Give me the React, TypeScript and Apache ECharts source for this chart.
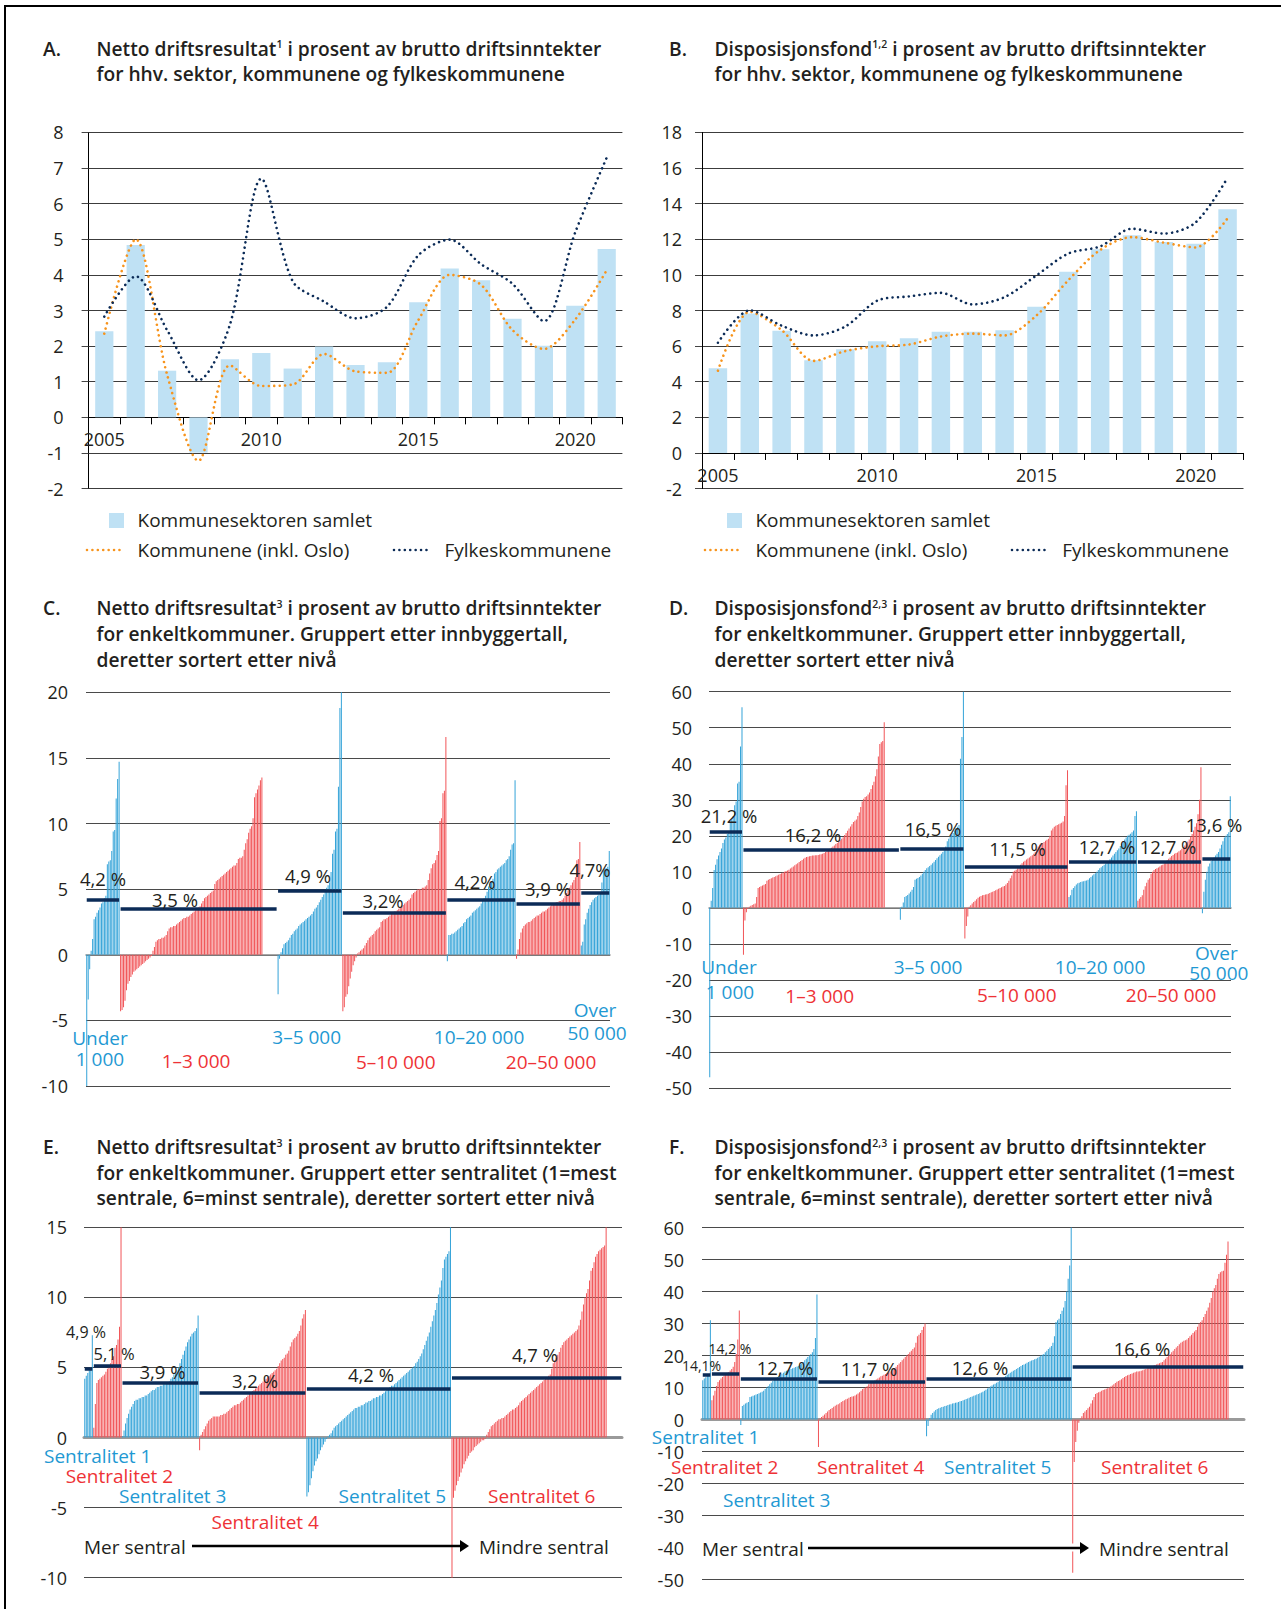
import React, { useEffect, useRef } from 'react';
import * as echarts from 'echarts';

// ---------- Panel A / B data ----------
const YEARS = ['2005','2006','2007','2008','2009','2010','2011','2012','2013','2014','2015','2016','2017','2018','2019','2020','2021'];
const A_SECTOR = [2.42, 4.84, 1.31, -0.99, 1.63, 1.81, 1.37, 1.99, 1.47, 1.55, 3.23, 4.18, 3.85, 2.77, 2.01, 3.13, 4.73];
const A_KOMMUNER = [2.35, 5.0, 1.2, -1.22, 1.46, 0.88, 0.92, 1.78, 1.29, 1.25, 2.73, 4.0, 3.72, 2.45, 1.92, 2.75, 4.13];
const A_FYLKE = [2.83, 3.96, 2.45, 1.04, 2.6, 6.7, 3.82, 3.25, 2.78, 3.1, 4.55, 4.99, 4.3, 3.75, 2.7, 5.2, 7.29];
const B_SECTOR = [4.76, 7.83, 6.87, 5.21, 5.82, 6.27, 6.44, 6.8, 6.8, 6.89, 8.21, 10.18, 11.44, 12.22, 11.85, 11.75, 13.69];
const B_KOMMUNER = [4.62, 7.93, 6.9, 5.17, 5.72, 5.99, 6.09, 6.54, 6.7, 6.6, 7.72, 9.7, 11.4, 12.12, 11.81, 11.54, 13.18];
const B_FYLKE = [6.19, 8.01, 7.15, 6.6, 7.1, 8.55, 8.79, 8.99, 8.34, 8.75, 9.97, 11.2, 11.6, 12.59, 12.32, 12.95, 15.45];
const YEAR_LABEL_STEP = 5;

// ---------- Panel C: netto driftsresultat by population group ----------
const C_UNDER_1000 = [-10.0, -3.4, -1.1, 0.3, 1.2, 2.7, 2.9, 3.2, 3.4, 3.6, 3.9, 4.0, 4.3, 4.5, 6.9, 7.1, 7.2, 7.9, 9.4, 9.5, 11.9, 13.4, 14.7];
const C_1_3000 = [-4.3, -4.2, -4.0, -3.5, -2.7, -2.2, -2.0, -1.7, -1.5, -1.3, -1.2, -1.1, -1.0, -0.9, -0.8, -0.7, -0.6, -0.5, -0.4, -0.3, -0.2, -0.1,
  0.3, 0.6, 1.0, 1.1, 1.2, 1.2, 1.3, 1.3, 1.4, 1.5, 1.8, 2.0, 2.1, 2.1, 2.2, 2.2, 2.3, 2.4, 2.5, 2.6, 2.7, 2.8, 2.8, 2.9, 2.9, 3.0, 3.1, 3.2, 3.3, 3.4,
  3.5, 3.6, 3.7, 3.9, 4.1, 4.3, 4.4, 4.5, 4.6, 4.7, 4.8, 4.9, 5.4, 5.6, 5.7, 5.8, 5.9, 6.0, 6.1, 6.2, 6.3, 6.4, 6.5, 6.6, 6.7, 6.8, 6.8, 7.0, 7.3, 7.4,
  7.4, 7.5, 8.0, 8.5, 8.8, 9.3, 9.6, 9.8, 10.4, 12.0, 12.3, 12.6, 12.9, 13.3, 13.5];
const C_3_5000 = [-3.0, -0.3, 0.2, 0.5, 0.8, 0.9, 1.0, 1.1, 1.3, 1.5, 1.6, 1.8, 1.9, 2.0, 2.2, 2.3, 2.4, 2.5, 2.6, 2.7, 2.8, 2.9, 3.0, 3.1, 3.3, 3.5,
  3.6, 3.8, 4.0, 4.2, 4.4, 4.6, 4.9, 5.1, 5.3, 5.5, 6.3, 7.7, 8.0, 9.4, 9.6, 12.8, 18.8, 20.0];
const C_5_10000 = [-4.3, -4.0, -3.2, -3.0, -2.4, -1.8, -1.3, -0.8, -0.5, -0.2,
  0.1, 0.2, 0.3, 0.4, 0.5, 0.7, 0.9, 1.1, 1.3, 1.4, 1.5, 1.6, 1.8, 1.9, 2.0, 2.1, 2.5, 2.6, 2.7, 2.7, 2.8, 2.9, 3.0, 3.1, 3.2, 3.3, 3.3, 3.4, 3.5, 3.6,
  3.7, 3.8, 3.9, 4.0, 4.1, 4.2, 4.3, 4.6, 4.7, 4.8, 4.9, 5.0, 5.0, 5.0, 5.1, 5.1, 5.2, 5.3, 5.7, 6.2, 6.6, 6.9, 7.0, 7.2, 7.6, 7.9, 10.2, 10.4, 12.3, 12.5, 16.6];
const C_10_20000 = [-0.5, 1.5, 1.5, 1.6, 1.6, 1.7, 1.8, 1.9, 2.0, 2.1, 2.2, 2.4, 2.5, 2.7, 2.8, 2.9, 3.0, 3.2, 3.3, 3.4, 3.5, 3.6, 3.7, 3.9, 4.1, 4.3,
  4.5, 4.8, 5.2, 5.4, 5.6, 5.8, 6.2, 6.3, 6.5, 6.6, 6.7, 6.8, 6.9, 7.0, 7.2, 7.3, 7.5, 8.0, 8.4, 8.5, 13.3];
const C_20_50000 = [-0.3, 0.4, 1.2, 1.7, 2.0, 2.2, 2.3, 2.4, 2.5, 2.5, 2.6, 2.7, 2.8, 2.9, 3.0, 3.0, 3.1, 3.2, 3.3, 3.3, 3.4, 3.5, 3.6, 3.7, 3.8, 3.8,
  3.9, 4.0, 4.0, 4.1, 4.1, 4.2, 4.3, 4.5, 4.7, 4.9, 5.1, 5.3, 5.5, 5.7, 5.9, 7.2, 7.3, 8.6];
const C_OVER_50000 = [0.7, 1.0, 2.3, 2.7, 3.2, 3.5, 3.8, 4.0, 4.2, 4.3, 4.4, 4.5, 4.6, 4.8, 5.5, 6.5, 6.6, 6.6, 6.7, 7.9];
const C_AVG = [4.2, 3.5, 4.9, 3.2, 4.2, 3.9, 4.7];
const C_AVG_LABELS = ['4,2 %', '3,5 %', '4,9 %', '3,2%', '4,2%', '3,9 %', '4,7%'];

// ---------- Panel D: disposisjonsfond by population group ----------
const D_UNDER_1000 = [-47.0, 2.0, 5.5, 10.5, 12.0, 13.5, 14.5, 15.5, 16.5, 18.0, 19.0, 19.5, 20.5, 21.0, 24.0, 24.5, 25.5, 28.5, 29.5, 34.5, 35.0, 44.8, 55.7];
const D_1_3000 = [-13.0, -3.5, -1.2, -0.3,
  0.3, 0.6, 0.8, 1.0, 1.2, 3.0, 5.5, 5.8, 6.0, 6.2, 6.4, 6.6, 7.5, 7.8, 8.0, 8.2, 8.4, 8.6, 8.8, 9.0, 9.2, 9.4, 9.6, 9.8, 10.0, 10.2, 10.4, 10.6, 10.9,
  11.2, 11.5, 11.8, 12.1, 12.4, 12.7, 13.0, 13.3, 13.6, 13.9, 14.1, 14.2, 14.3, 14.4, 14.5, 14.5, 14.6, 14.6, 14.7, 14.8, 14.9, 15.0, 15.2, 15.5, 15.8,
  16.1, 16.4, 16.7, 17.0, 17.3, 17.7, 18.0, 18.4, 18.8, 19.2, 19.6, 20.2, 20.8, 21.4, 22.0, 22.6, 23.2, 23.8, 24.2, 24.5, 25.5, 26.5, 28.0, 29.5, 30.3,
  30.8, 31.0, 31.5, 32.0, 33.0, 34.0, 35.0, 36.5, 38.5, 42.0, 45.5, 46.0, 46.3, 51.5];
const D_3_5000 = [-3.3, 0.3, 1.5, 3.0, 3.3, 3.6, 4.0, 4.5, 5.0, 5.8, 7.8, 8.1, 8.3, 8.6, 9.0, 9.5, 10.0, 10.5, 11.0, 11.3, 11.6, 12.0, 12.4, 12.8, 13.3,
  13.8, 14.2, 14.6, 15.0, 15.5, 16.0, 17.0, 18.5, 19.2, 19.8, 20.3, 20.8, 21.5, 22.0, 22.5, 23.0, 41.4, 47.4, 60.0];
const D_5_10000 = [-8.5, -5.0, -2.4, 0.3, 0.7, 1.2, 1.6, 2.0, 2.4, 2.8, 3.1, 3.3, 3.5, 3.6, 3.7, 3.8, 3.9, 4.1, 4.3, 4.5, 4.7, 4.9, 5.1, 5.3, 5.5, 5.7,
  5.9, 6.1, 6.5, 6.9, 7.5, 8.2, 9.0, 10.0, 10.3, 10.6, 11.0, 11.5, 12.0, 12.4, 12.8, 13.1, 13.4, 13.7, 14.0, 14.3, 14.6, 15.0, 15.5, 16.3, 17.0, 17.5,
  17.8, 18.0, 18.3, 18.6, 18.9, 19.2, 20.0, 21.5, 22.0, 22.5, 22.8, 23.0, 23.2, 23.4, 23.6, 24.0, 25.5, 34.0, 38.2];
const D_10_20000 = [3.0, 3.5, 5.0, 5.5, 6.0, 6.5, 6.8, 7.0, 7.2, 7.3, 7.4, 7.5, 7.6, 7.8, 8.2, 8.6, 9.0, 9.3, 9.6, 10.0, 10.5, 11.0, 11.3, 11.6, 12.0,
  12.3, 12.6, 13.0, 13.5, 14.0, 14.5, 15.0, 15.5, 16.0, 16.5, 17.2, 17.8, 18.5, 19.0, 19.5, 20.0, 20.3, 20.6, 21.0, 21.5, 25.5, 26.8];
const D_20_50000 = [2.0, 2.5, 3.0, 3.5, 5.0, 6.0, 7.0, 7.8, 8.2, 9.5, 10.0, 10.5, 10.8, 11.0, 11.2, 11.5, 11.8, 12.0, 12.4, 12.8, 13.2, 13.6, 14.0,
  14.4, 14.7, 15.0, 15.2, 15.4, 15.7, 16.0, 16.4, 16.8, 17.3, 17.8, 18.4, 19.0, 19.8, 20.5, 21.5, 22.5, 23.5, 26.0, 30.0, 39.0];
const D_OVER_50000 = [-1.5, 4.5, 7.8, 10.0, 11.5, 12.3, 13.0, 13.5, 14.0, 14.5, 15.0, 15.5, 16.5, 17.5, 18.5, 19.5, 20.0, 20.5, 21.0, 31.0];
const D_AVG = [21.2, 16.2, 16.5, 11.5, 12.7, 12.7, 13.6];
const D_AVG_LABELS = ['21,2 %', '16,2 %', '16,5 %', '11,5 %', '12,7 %', '12,7 %', '13,6 %'];

// ---------- Panel E: netto driftsresultat by sentralitet ----------
const E_S1 = [4.2, 4.4, 4.6, 4.8, 5.0, 7.3];
const E_S2 = [0.7, 2.4, 3.9, 4.1, 4.2, 4.3, 4.4, 4.5, 4.7, 4.9, 5.0, 5.3, 5.6, 5.8, 6.4, 6.6, 7.0, 7.9, 15.0];
const E_S3 = [0.1, 0.5, 1.0, 1.4, 1.7, 2.0, 2.2, 2.4, 2.6, 2.7, 2.7, 2.8, 2.8, 2.9, 2.9, 3.0, 3.0, 3.1, 3.2, 3.3, 3.4, 3.4, 3.5, 3.6, 3.6, 3.7,
  3.7, 3.8, 3.8, 3.9, 3.9, 4.0, 4.2, 4.3, 4.5, 4.6, 4.8, 5.0, 5.3, 5.6, 5.9, 6.2, 6.5, 6.8, 7.0, 7.2, 7.4, 7.5, 7.6, 7.8, 8.7];
const E_S4 = [-0.9, 0.2, 0.4, 0.6, 0.8, 1.0, 1.2, 1.3, 1.4, 1.5, 1.5, 1.5, 1.5, 1.5, 1.6, 1.6, 1.7, 1.7, 1.8, 1.9, 2.0, 2.1, 2.2, 2.3, 2.3, 2.4,
  2.4, 2.5, 2.6, 2.7, 2.8, 2.9, 3.0, 3.1, 3.2, 3.3, 3.4, 3.5, 3.6, 3.7, 3.8, 3.9, 4.0, 4.1, 4.2, 4.3, 4.4, 4.5, 4.6, 4.7, 4.8, 4.9, 5.1, 5.3, 5.5,
  5.6, 5.7, 5.9, 6.0, 6.2, 6.5, 6.8, 7.0, 7.1, 7.2, 7.4, 7.6, 8.0, 8.5, 8.8, 9.1];
const E_S5 = [-4.2, -3.9, -3.4, -2.9, -2.4, -2.0, -1.7, -1.5, -1.2, -0.9, -0.7, -0.5, -0.3, -0.1,
  0.1, 0.2, 0.3, 0.5, 0.7, 0.8, 0.9, 1.0, 1.1, 1.2, 1.3, 1.4, 1.5, 1.6, 1.7, 1.8, 1.9, 2.0, 2.1, 2.1, 2.2, 2.2, 2.3, 2.3, 2.4, 2.5, 2.5, 2.6, 2.6,
  2.7, 2.8, 2.8, 2.9, 2.9, 3.0, 3.0, 3.1, 3.2, 3.3, 3.4, 3.5, 3.6, 3.7, 3.7, 3.8, 3.9, 4.0, 4.1, 4.2, 4.3, 4.4, 4.5, 4.6, 4.7, 4.8, 4.9, 5.0, 5.1,
  5.3, 5.4, 5.6, 5.8, 6.0, 6.3, 6.6, 6.9, 7.2, 7.5, 7.9, 8.3, 8.7, 9.1, 9.6, 10.2, 10.7, 11.2, 12.1, 12.7, 12.9, 13.1, 13.3, 15.0];
const E_S6 = [-10.0, -4.3, -3.8, -3.4, -3.1, -2.8, -2.5, -2.2, -1.9, -1.7, -1.5, -1.3, -1.1, -1.0, -0.9, -0.7, -0.6, -0.5, -0.4, -0.3, -0.2, -0.2, -0.1,
  0.2, 0.4, 0.6, 0.8, 0.9, 1.0, 1.1, 1.2, 1.3, 1.3, 1.4, 1.4, 1.5, 1.6, 1.7, 1.8, 1.9, 2.0, 2.0, 2.1, 2.2, 2.3, 2.5, 2.6, 2.7, 2.8, 2.9, 3.0, 3.1,
  3.2, 3.3, 3.4, 3.5, 3.6, 3.7, 3.8, 3.9, 4.0, 4.1, 4.2, 4.3, 4.4, 4.5, 4.9, 5.3, 5.5, 5.7, 5.9, 6.1, 6.4, 6.6, 6.8, 6.9, 7.0, 7.1, 7.2, 7.3, 7.4,
  7.5, 7.6, 7.7, 8.0, 8.4, 9.0, 9.5, 10.0, 10.3, 10.6, 11.2, 11.9, 12.1, 12.5, 12.9, 13.1, 13.3, 13.4, 13.5, 13.6, 13.7, 15.0];
const E_AVG_LINE = [4.9, 5.1, 3.9, 3.2, 3.5, 4.25];
const E_AVG_LABELS = ['4,9 %', '5,1 %', '3,9 %', '3,2 %', '4,2 %', '4,7 %'];

// ---------- Panel F: disposisjonsfond by sentralitet ----------
const F_S1 = [12.3, 12.8, 13.2, 13.6, 14.0, 31.0];
const F_S2 = [6.0, 7.5, 9.0, 10.5, 11.7, 12.3, 12.8, 13.3, 13.8, 14.3, 14.6, 14.8, 15.3, 15.8, 16.5, 18.0, 20.5, 25.0, 34.1];
const F_S3 = [-1.7, 4.2, 4.6, 5.0, 5.2, 5.5, 7.0, 7.2, 7.4, 7.6, 7.8, 8.0, 8.2, 8.4, 8.7, 9.0, 9.5, 10.0, 10.5, 11.0, 11.5, 12.0, 12.5, 13.0, 13.3,
  13.6, 14.0, 14.3, 14.6, 15.0, 15.2, 15.4, 15.6, 15.8, 16.0, 16.2, 16.4, 16.6, 16.8, 17.0, 17.5, 18.0, 18.5, 19.0, 19.5, 20.0, 20.5, 21.0, 22.0, 25.5, 39.1];
const F_S4 = [-8.6, 0.3, 0.8, 1.2, 1.6, 2.0, 2.5, 3.0, 3.3, 3.6, 4.0, 4.3, 4.6, 4.8, 5.1, 5.5, 5.8, 6.0, 6.3, 6.5, 6.8, 7.0, 7.2, 7.3, 7.5, 7.8,
  8.1, 8.5, 9.0, 9.5, 9.8, 10.0, 10.4, 11.0, 11.3, 11.7, 12.0, 12.2, 12.5, 12.8, 13.1, 13.5, 13.7, 14.0, 14.2, 14.5, 14.7, 15.0, 15.3, 15.6, 16.0,
  16.5, 17.0, 17.5, 18.0, 18.5, 19.0, 19.5, 20.0, 20.5, 21.0, 21.5, 22.0, 22.5, 24.0, 26.0, 26.5, 27.0, 28.0, 29.0, 30.0];
const F_S5 = [-5.2, -2.0, 0.5, 1.5, 2.0, 2.5, 3.0, 3.3, 3.5, 3.7, 3.9, 4.0, 4.2, 4.3, 4.5, 4.7, 4.8, 5.0, 5.1, 5.2, 5.3, 5.5, 5.7, 5.8, 6.0, 6.2,
  6.4, 6.6, 6.8, 7.0, 7.2, 7.4, 7.6, 7.8, 8.0, 8.2, 8.4, 8.7, 9.0, 9.3, 9.7, 10.0, 10.3, 10.6, 10.9, 11.2, 11.5, 11.8, 12.0, 12.4, 12.8, 13.2, 13.6,
  14.0, 14.3, 14.6, 14.9, 15.2, 15.5, 15.8, 16.1, 16.4, 16.7, 17.0, 17.2, 17.4, 17.7, 18.0, 18.2, 18.4, 18.6, 18.8, 19.0, 19.3, 19.6, 20.0, 20.2, 20.5,
  21.0, 21.5, 22.0, 22.5, 23.0, 24.0, 26.0, 30.5, 31.0, 31.5, 33.0, 34.0, 35.0, 37.0, 40.0, 44.0, 48.1, 60.0];
const F_S6 = [-47.9, -13.3, -7.0, -3.5, -1.0,
  0.3, 1.0, 2.0, 2.5, 3.0, 3.5, 4.0, 5.0, 6.0, 7.0, 8.0, 8.3, 8.5, 8.7, 9.0, 9.2, 9.4, 9.6, 9.8, 10.0, 10.3, 10.6, 11.0, 11.4, 11.8, 12.0, 12.3, 12.6,
  13.0, 13.3, 13.6, 13.8, 14.0, 14.2, 14.4, 14.6, 14.8, 15.0, 15.0, 15.1, 15.2, 15.4, 15.6, 15.8, 16.0, 16.2, 16.4, 16.6, 16.8, 17.0, 17.2, 17.4, 17.6,
  17.8, 18.0, 18.5, 19.0, 19.5, 20.0, 20.5, 21.0, 21.5, 22.0, 22.5, 23.0, 23.5, 24.0, 24.3, 24.6, 24.8, 25.0, 25.5, 26.0, 26.5, 27.0, 27.5, 28.0, 29.0,
  30.0, 30.5, 31.0, 32.0, 33.0, 34.0, 35.0, 36.5, 38.0, 40.0, 41.0, 42.0, 44.0, 45.5, 46.0, 46.3, 46.5, 49.0, 51.5, 55.6];
const F_AVG = [14.1, 14.2, 12.7, 11.7, 12.6, 16.6];
const F_AVG_LABELS = ['14,1%', '14,2 %', '12,7 %', '11,7 %', '12,6 %', '16,6 %'];

// municipalities with no value (drawn as empty slots)
const MISSING_1_3000 = 10;
const MISSING_S6 = 10;

// ---------- styling ----------
const FONT = '"Open Sans", "Noto Sans", sans-serif';
const TXT = '#231f20';
const BAR_BLUE = '#34a3d8';
const BAR_RED = '#f15558';
const BLUE_TXT = '#1f99d3';
const RED_TXT = '#ee3236';
const NAVY = '#0b2b57';
const ORANGE = '#f7941d';
const LIGHTBLUE = '#bfe1f4';
const TITLE_SIZE = 19.2;

type Group = { vals: number[]; color: string; line: number; missing?: number };

function buildPanel(groups: Group[]) {
  const data: any[] = [];
  const lines: any[] = [];
  for (const g of groups) {
    const start = data.length;
    for (const v of g.vals) data.push({ value: v, itemStyle: { color: g.color } });
    for (let i = 0; i < (g.missing || 0); i++) data.push('-');
    lines.push([{ coord: [start, g.line] }, { coord: [data.length - 1, g.line] }]);
  }
  return { data, lines, cats: data.map((_: any, i: number) => String(i + 1)) };
}

function t(x: number, y: number, text: string, o: any = {}) {
  return {
    type: 'text', x, y, silent: true, z: 10,
    style: {
      text, fontFamily: FONT, fontSize: o.size || 18, fontWeight: o.weight || 'normal',
      fill: o.color || TXT, align: o.align || 'left', verticalAlign: 'middle',
      rich: o.rich,
    },
  };
}

const SUP = { sup: { fontSize: 10.5, fontWeight: 600, fontFamily: FONT, fill: TXT, verticalAlign: 'top' } };

function title(xL: number, xT: number, y: number, letter: string, lines: string[]) {
  const els: any[] = [t(xL, y, letter, { size: TITLE_SIZE, weight: 600 })];
  lines.forEach((l, i) => els.push(t(xT, y + i * 25.7, l, { size: TITLE_SIZE, weight: 600, rich: SUP })));
  return els;
}

function dotted(x1: number, x2: number, y: number, color: string) {
  return {
    type: 'polyline', silent: true,
    shape: { points: [[x1, y], [x2, y]] },
    style: { stroke: color, lineWidth: 2.6, lineDash: [0.01, 5.4], lineCap: 'round', fill: 'none' },
  };
}

function arrow(x1: number, x2: number, y: number) {
  return [
    { type: 'line', silent: true, z: 9, shape: { x1, y1: y, x2: x2 - 6, y2: y }, style: { stroke: '#000', lineWidth: 2.5 } },
    { type: 'polygon', silent: true, z: 9, shape: { points: [[x2 - 9, y - 6], [x2, y], [x2 - 9, y + 6]] }, style: { fill: '#000' } },
  ];
}

function buildPanels() {
  const C = buildPanel([
    { vals: C_UNDER_1000, color: BAR_BLUE, line: C_AVG[0] },
    { vals: C_1_3000, color: BAR_RED, line: C_AVG[1], missing: MISSING_1_3000 },
    { vals: C_3_5000, color: BAR_BLUE, line: C_AVG[2] },
    { vals: C_5_10000, color: BAR_RED, line: C_AVG[3] },
    { vals: C_10_20000, color: BAR_BLUE, line: C_AVG[4] },
    { vals: C_20_50000, color: BAR_RED, line: C_AVG[5] },
    { vals: C_OVER_50000, color: BAR_BLUE, line: C_AVG[6] },
  ]);
  const D = buildPanel([
    { vals: D_UNDER_1000, color: BAR_BLUE, line: D_AVG[0] },
    { vals: D_1_3000, color: BAR_RED, line: D_AVG[1], missing: MISSING_1_3000 },
    { vals: D_3_5000, color: BAR_BLUE, line: D_AVG[2] },
    { vals: D_5_10000, color: BAR_RED, line: D_AVG[3] },
    { vals: D_10_20000, color: BAR_BLUE, line: D_AVG[4] },
    { vals: D_20_50000, color: BAR_RED, line: D_AVG[5] },
    { vals: D_OVER_50000, color: BAR_BLUE, line: D_AVG[6] },
  ]);
  const E = buildPanel([
    { vals: E_S1, color: BAR_BLUE, line: E_AVG_LINE[0] },
    { vals: E_S2, color: BAR_RED, line: E_AVG_LINE[1] },
    { vals: E_S3, color: BAR_BLUE, line: E_AVG_LINE[2] },
    { vals: E_S4, color: BAR_RED, line: E_AVG_LINE[3] },
    { vals: E_S5, color: BAR_BLUE, line: E_AVG_LINE[4] },
    { vals: E_S6, color: BAR_RED, line: E_AVG_LINE[5], missing: MISSING_S6 },
  ]);
  const F = buildPanel([
    { vals: F_S1, color: BAR_BLUE, line: F_AVG[0] },
    { vals: F_S2, color: BAR_RED, line: F_AVG[1] },
    { vals: F_S3, color: BAR_BLUE, line: F_AVG[2] },
    { vals: F_S4, color: BAR_RED, line: F_AVG[3] },
    { vals: F_S5, color: BAR_BLUE, line: F_AVG[4] },
    { vals: F_S6, color: BAR_RED, line: F_AVG[5], missing: MISSING_S6 },
  ]);
  return { C, D, E, F };
}

function buildOption() {
  const { C, D, E, F } = buildPanels();

  const grids = [
    { left: 88.6, top: 132.4, width: 533.8, height: 356.2 },
    { left: 702, top: 132.4, width: 541.5, height: 356.2 },
    { left: 86, top: 692.3, width: 524, height: 393.7 },
    { left: 709, top: 691.7, width: 522, height: 396.3 },
    { left: 84, top: 1227.3, width: 538, height: 350.4 },
    { left: 702, top: 1227.5, width: 542, height: 352 },
  ].map((g) => ({ ...g, containLabel: false, outerBoundsMode: 'none' }));

  const yearAxis = (gi: number) => ({
    type: 'category', gridIndex: gi, data: YEARS, boundaryGap: true,
    axisLine: { onZero: true, lineStyle: { color: '#000', width: 1 } },
    axisTick: { show: true, interval: 0, length: 7, lineStyle: { color: '#000' } },
    axisLabel: { show: false },
    splitLine: { show: false },
  });
  const muniAxis = (gi: number, cats: string[], zeroW: number, zeroC: string) => ({
    type: 'category', gridIndex: gi, data: cats, boundaryGap: true,
    axisLine: { onZero: true, lineStyle: { color: zeroC, width: zeroW } },
    axisTick: { show: false }, axisLabel: { show: false }, splitLine: { show: false },
  });
  const valAxisAB = (gi: number, min: number, max: number, interval: number, margin: number) => ({
    type: 'value', gridIndex: gi, min, max, interval,
    axisLine: { show: true, lineStyle: { color: '#000', width: 1 } },
    axisTick: { show: true, length: 7, lineStyle: { color: '#444' } },
    splitLine: { show: true, lineStyle: { color: '#3c3c3c', width: 1 } },
    axisLabel: { margin, fontSize: 18, color: TXT, fontFamily: FONT },
  });
  const valAxis = (gi: number, min: number, max: number, interval: number, margin: number) => ({
    type: 'value', gridIndex: gi, min, max, interval,
    axisLine: { show: false }, axisTick: { show: false },
    splitLine: { show: true, lineStyle: { color: '#4a4a4a', width: 1 } },
    axisLabel: { margin, fontSize: 18, color: TXT, fontFamily: FONT },
  });

  const dotLine = (name: string, gi: number, data: number[], color: string) => ({
    type: 'line', name, xAxisIndex: gi, yAxisIndex: gi, data, smooth: 0.3, symbol: 'none', z: 3,
    lineStyle: { color, width: 2.6, type: [0.01, 5.4], cap: 'round' },
  });
  const muniBars = (gi: number, P: any) => ({
    type: 'bar', xAxisIndex: gi, yAxisIndex: gi, data: P.data, barWidth: '62%',
    markLine: {
      silent: true, symbol: ['none', 'none'], label: { show: false },
      lineStyle: { color: NAVY, width: 3.5, type: 'solid' }, data: P.lines,
    },
  });

  return {
    animation: false,
    backgroundColor: '#fff',
    textStyle: { fontFamily: FONT },
    grid: grids,
    xAxis: [
      yearAxis(0),
      yearAxis(1),
      muniAxis(2, C.cats, 1.5, '#8a8a8a'),
      muniAxis(3, D.cats, 1.5, '#8a8a8a'),
      muniAxis(4, E.cats, 3, '#9a9a9a'),
      muniAxis(5, F.cats, 3, '#9a9a9a'),
    ],
    yAxis: [
      valAxisAB(0, -2, 8, 1, 25),
      valAxisAB(1, -2, 18, 2, 20),
      valAxis(2, -10, 20, 5, 18),
      valAxis(3, -50, 60, 10, 17),
      valAxis(4, -10, 15, 5, 17),
      valAxis(5, -50, 60, 10, 18),
    ],
    series: [
      { type: 'bar', name: 'Kommunesektoren samlet', xAxisIndex: 0, yAxisIndex: 0, data: A_SECTOR, barCategoryGap: '42%', itemStyle: { color: LIGHTBLUE } },
      dotLine('Kommunene (inkl. Oslo)', 0, A_KOMMUNER, ORANGE),
      dotLine('Fylkeskommunene', 0, A_FYLKE, NAVY),
      { type: 'bar', name: 'Kommunesektoren samlet', xAxisIndex: 1, yAxisIndex: 1, data: B_SECTOR, barCategoryGap: '42%', itemStyle: { color: LIGHTBLUE } },
      dotLine('Kommunene (inkl. Oslo)', 1, B_KOMMUNER, ORANGE),
      dotLine('Fylkeskommunene', 1, B_FYLKE, NAVY),
      muniBars(2, C),
      muniBars(3, D),
      muniBars(4, E),
      muniBars(5, F),
    ],
  };
}

function buildGraphic(chart: any) {
  const graphic: any[] = [
    { type: 'rect', silent: true, shape: { x: 5, y: 6, width: 1300, height: 1640 }, style: { fill: 'none', stroke: '#000', lineWidth: 2 } },
    ...title(43, 96.5, 48.2, 'A.', ['Netto driftsresultat{sup|1} i prosent av brutto driftsinntekter', 'for hhv. sektor, kommunene og fylkeskommunene']),
    ...title(669, 714.5, 48.2, 'B.', ['Disposisjonsfond{sup|1,2} i prosent av brutto driftsinntekter', 'for hhv. sektor, kommunene og fylkeskommunene']),
    ...title(43, 96.5, 607.6, 'C.', ['Netto driftsresultat{sup|3} i prosent av brutto driftsinntekter', 'for enkeltkommuner. Gruppert etter innbyggertall,', 'deretter sortert etter nivå']),
    ...title(669, 714.5, 607.6, 'D.', ['Disposisjonsfond{sup|2,3} i prosent av brutto driftsinntekter', 'for enkeltkommuner. Gruppert etter innbyggertall,', 'deretter sortert etter nivå']),
    ...title(43, 96.5, 1146.5, 'E.', ['Netto driftsresultat{sup|3} i prosent av brutto driftsinntekter', 'for enkeltkommuner. Gruppert etter sentralitet (1=mest', 'sentrale, 6=minst sentrale), deretter sortert etter nivå']),
    ...title(669, 714.5, 1146.5, 'F.', ['Disposisjonsfond{sup|2,3} i prosent av brutto driftsinntekter', 'for enkeltkommuner. Gruppert etter sentralitet (1=mest', 'sentrale, 6=minst sentrale), deretter sortert etter nivå']),

    // legends A
    { type: 'rect', silent: true, shape: { x: 109, y: 513, width: 15, height: 15 }, style: { fill: LIGHTBLUE } },
    t(137.5, 520.4, 'Kommunesektoren samlet', { size: 19 }),
    dotted(87, 124, 550, ORANGE), t(137.5, 550, 'Kommunene (inkl. Oslo)', { size: 19 }),
    dotted(394, 431, 550, NAVY), t(444.4, 550, 'Fylkeskommunene', { size: 19 }),
    // legends B
    { type: 'rect', silent: true, shape: { x: 727, y: 513, width: 15, height: 15 }, style: { fill: LIGHTBLUE } },
    t(755.4, 520.4, 'Kommunesektoren samlet', { size: 19 }),
    dotted(705, 742, 550, ORANGE), t(755.4, 550, 'Kommunene (inkl. Oslo)', { size: 19 }),
    dotted(1012, 1049, 550, NAVY), t(1062.3, 550, 'Fylkeskommunene', { size: 19 }),

    // C group labels
    t(100, 1037.5, 'Under', { size: 19, color: BLUE_TXT, align: 'center' }),
    t(100, 1059, '1 000', { size: 19, color: BLUE_TXT, align: 'center' }),
    t(196, 1061, '1–3 000', { size: 19, color: RED_TXT, align: 'center' }),
    t(306.7, 1037.3, '3–5 000', { size: 19, color: BLUE_TXT, align: 'center' }),
    t(395.7, 1061.7, '5–10 000', { size: 19, color: RED_TXT, align: 'center' }),
    t(479, 1037.3, '10–20 000', { size: 19, color: BLUE_TXT, align: 'center' }),
    t(551, 1061.7, '20–50 000', { size: 19, color: RED_TXT, align: 'center' }),
    t(595, 1010, 'Over', { size: 19, color: BLUE_TXT, align: 'center' }),
    t(597, 1033, '50 000', { size: 19, color: BLUE_TXT, align: 'center' }),
    // D group labels
    t(729, 967.3, 'Under', { size: 19, color: BLUE_TXT, align: 'center' }),
    t(730, 991.7, '1 000', { size: 19, color: BLUE_TXT, align: 'center' }),
    t(819.7, 996, '1–3 000', { size: 19, color: RED_TXT, align: 'center' }),
    t(928, 967.3, '3–5 000', { size: 19, color: BLUE_TXT, align: 'center' }),
    t(1016.7, 995, '5–10 000', { size: 19, color: RED_TXT, align: 'center' }),
    t(1100, 967.3, '10–20 000', { size: 19, color: BLUE_TXT, align: 'center' }),
    t(1171, 995, '20–50 000', { size: 19, color: RED_TXT, align: 'center' }),
    t(1216.3, 953, 'Over', { size: 19, color: BLUE_TXT, align: 'center' }),
    t(1218.8, 973, '50 000', { size: 19, color: BLUE_TXT, align: 'center' }),
    // E group labels
    t(44, 1455.5, 'Sentralitet 1', { size: 19, color: BLUE_TXT }),
    t(65.7, 1476, 'Sentralitet 2', { size: 19, color: RED_TXT }),
    t(119, 1495.5, 'Sentralitet 3', { size: 19, color: BLUE_TXT }),
    t(211.5, 1522, 'Sentralitet 4', { size: 19, color: RED_TXT }),
    t(338.6, 1495.5, 'Sentralitet 5', { size: 19, color: BLUE_TXT }),
    t(488, 1495.5, 'Sentralitet 6', { size: 19, color: RED_TXT }),
    t(84, 1546.5, 'Mer sentral', { size: 19 }),
    t(479, 1546.5, 'Mindre sentral', { size: 19 }),
    ...arrow(192, 469, 1546),
    // F group labels
    t(651.8, 1437, 'Sentralitet 1', { size: 19, color: BLUE_TXT }),
    t(671, 1467, 'Sentralitet 2', { size: 19, color: RED_TXT }),
    t(723, 1500, 'Sentralitet 3', { size: 19, color: BLUE_TXT }),
    t(817, 1467, 'Sentralitet 4', { size: 19, color: RED_TXT }),
    t(944, 1467, 'Sentralitet 5', { size: 19, color: BLUE_TXT }),
    t(1101, 1467, 'Sentralitet 6', { size: 19, color: RED_TXT }),
    // the -40 gridline is hidden behind the arrow row in F
    { type: 'rect', silent: true, z: 8, shape: { x: 702, y: 1543.5, width: 543, height: 8 }, style: { fill: '#fff' } },
    t(702, 1549, 'Mer sentral', { size: 19 }),
    t(1099, 1549, 'Mindre sentral', { size: 19 }),
    ...arrow(808, 1089, 1548),
  ];

  // year labels placed under the zero line of panels A and B
  [0, 1].forEach((gi) => {
    YEARS.forEach((y, i) => {
      if (i % YEAR_LABEL_STEP !== 0) return;
      const p = chart.convertToPixel({ xAxisIndex: gi, yAxisIndex: gi }, [i, 0]);
      if (p) graphic.push(t(p[0], p[1] + 22, y, { size: 18, align: 'center' }));
    });
  });

  // average labels
  const cPos = [[103, 878], [175, 899], [308, 875], [383, 900], [475, 881], [548, 888], [590, 869]];
  C_AVG_LABELS.forEach((s, i) => graphic.push(t(cPos[i][0], cPos[i][1], s, { size: 18.5, align: 'center' })));
  const dPos = [[729, 815], [813, 834], [933, 828], [1017.5, 848], [1107, 846], [1168, 846], [1214, 824]];
  D_AVG_LABELS.forEach((s, i) => graphic.push(t(dPos[i][0], dPos[i][1], s, { size: 18.5, align: 'center' })));
  const ePos = [[86, 1332, 16], [114, 1353, 16.5], [162.5, 1371, 18.5], [255, 1380, 18.5], [371, 1374, 18.5], [535, 1354, 18.5]];
  E_AVG_LABELS.forEach((s, i) => graphic.push(t(ePos[i][0], ePos[i][1], s, { size: ePos[i][2], align: 'center' })));
  const fPos = [[701.5, 1365, 14], [730, 1348, 14], [785, 1367, 18.5], [869, 1368, 18.5], [980, 1367, 18.5], [1142, 1348, 18.5]];
  F_AVG_LABELS.forEach((s, i) => graphic.push(t(fPos[i][0], fPos[i][1], s, { size: fPos[i][2], align: 'center' })));
  return graphic;
}

export default function App() {
  const ref = useRef<HTMLDivElement>(null);
  useEffect(() => {
    if (!ref.current) return;
    const chart = echarts.init(ref.current, null, { renderer: 'svg' });
    chart.setOption(buildOption() as any);
    chart.setOption({ graphic: buildGraphic(chart) } as any);
    return () => chart.dispose();
  }, []);
  return <div ref={ref} style={{ position: 'absolute', left: 0, top: 0, width: 1281, height: 1609, background: '#fff' }} />;
}
